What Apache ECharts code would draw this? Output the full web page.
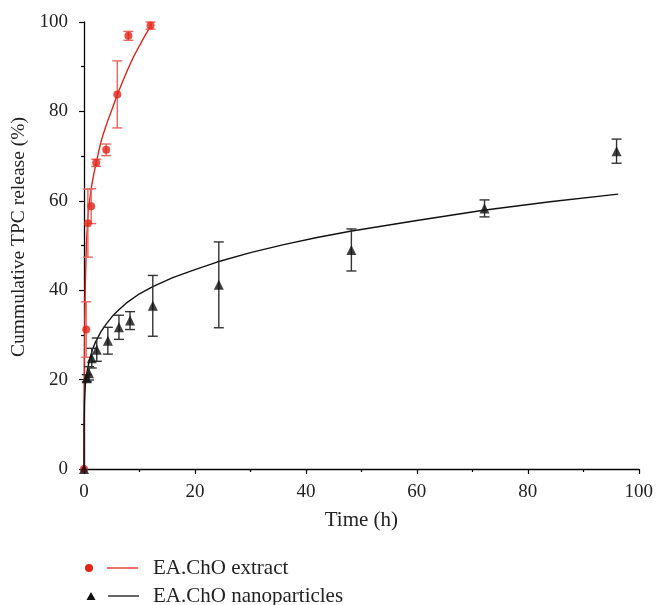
<!DOCTYPE html>
<html>
<head>
<meta charset="utf-8">
<script src="https://cdn.jsdelivr.net/npm/echarts@6/dist/echarts.min.js"></script>
<style>
html,body{margin:0;padding:0;background:#fff;}
#chart{width:656px;height:605px;}
</style>
</head>
<body>
<div id="chart"></div>
<script>
// ---- data ----
const xTicks = [0, 20, 40, 60, 80, 100];
const yTicks = [0, 20, 40, 60, 80, 100];

const extractTime  = [0, 0.4, 0.7, 1.3, 2.2, 4, 6, 8, 12];
const extractValue = [0, 31.2, 55, 58.8, 68.5, 71.4, 83.8, 96.9, 99.2];
const extractError = [0, 6.2, 7.6, 3.9, 0.8, 1.3, 7.5, 1.0, 0.8];

const nanoTime  = [0, 0.5, 0.9, 1.4, 2.3, 4.3, 6.3, 8.3, 12.4, 24.3, 48.2, 72.2, 96];
const nanoValue = [0, 20.3, 21.4, 24.8, 26.7, 28.7, 31.7, 33.2, 36.5, 41.2, 49.0, 58.3, 71.1];
const nanoError = [0, 0.8, 1.5, 2.2, 2.6, 3.0, 2.7, 2.0, 6.8, 9.6, 4.7, 1.9, 2.7];

// fitted curves
const extractFitTime  = [0, 0.03, 0.08, 0.15, 0.25, 0.45, 0.75, 1, 1.4, 1.8, 2.2, 2.7, 3.2, 3.7, 4.2, 5.2, 6, 7, 8, 9, 10.3, 11.2, 12.2];
const extractFitValue = [0, 15, 26, 34, 42, 51, 57, 60, 63.5, 66.2, 68.5, 71.3, 73.8, 75.8, 77.6, 81, 83.7, 86.8, 89.7, 92.4, 95.4, 97.4, 99.4];

const nanoFitTime  = [0, 0.02, 0.1, 0.25, 0.5, 1, 1.5, 2, 3, 4, 5.2, 6, 7.6, 10, 12.4, 16, 20, 24, 30, 36, 42, 48, 60, 72, 84, 96.3];
const nanoFitValue = [0, 10, 15.5, 19, 21.5, 24.5, 26.6, 28.2, 30.6, 32.4, 34.3, 35.3, 37.1, 39.2, 40.8, 42.8, 44.6, 46.3, 48.4, 50.2, 51.8, 53.2, 55.6, 57.9, 59.8, 61.5];

const legendNames = ['EA.ChO extract', 'EA.ChO nanoparticles'];
const xAxisName = 'Time (h)';
const yAxisName = 'Cummulative TPC release (%)';

// ---- styling ----
const RED = '#e2231a';
const RED_ERR = '#e8665f';
const BLACK = '#111111';
const BLACK_ERR = '#333333';
const FONT = '"Liberation Serif", "DejaVu Serif", serif';

function zip(a, b, c) { return a.map((v, i) => c ? [v, b[i], c[i]] : [v, b[i]]); }

function errRender(color) {
  return function (params, api) {
    const x = api.value(0), y = api.value(1), e = api.value(2);
    if (!e) return null;
    const hi = api.coord([x, y + e]);
    const lo = api.coord([x, y - e]);
    const w = 5;
    const st = { stroke: color, lineWidth: 1.4 };
    return {
      type: 'group',
      children: [
        { type: 'line', shape: { x1: hi[0], y1: hi[1], x2: lo[0], y2: lo[1] }, style: st },
        { type: 'line', shape: { x1: hi[0] - w, y1: hi[1], x2: hi[0] + w, y2: hi[1] }, style: st },
        { type: 'line', shape: { x1: lo[0] - w, y1: lo[1], x2: lo[0] + w, y2: lo[1] }, style: st }
      ]
    };
  };
}

const chart = echarts.init(document.getElementById('chart'), null, { renderer: 'canvas' });

const axisCommon = {
  type: 'value',
  min: 0,
  max: 100,
  interval: 20,
  axisLine: { show: true, onZero: false, lineStyle: { color: '#000', width: 1.3 } },
  axisTick: { show: true, inside: false, length: 5, lineStyle: { color: '#000', width: 1.2 } },
  minorTick: { show: true, splitNumber: 2, length: 3, lineStyle: { color: '#000', width: 1.2 } },
  splitLine: { show: false },
  axisLabel: { color: '#222', fontFamily: FONT, fontSize: 19 }
};

chart.setOption({
  animation: false,
  backgroundColor: '#fff',
  grid: { left: 84, right: 16, top: 22, bottom: 136 },
  xAxis: Object.assign({}, axisCommon, {
    name: xAxisName,
    nameLocation: 'middle',
    nameGap: 41,
    nameTextStyle: { color: '#222', fontFamily: FONT, fontSize: 21 },
    axisLabel: Object.assign({}, axisCommon.axisLabel, { margin: 14,
      formatter: v => xTicks.indexOf(v) >= 0 ? String(v) : '' })
  }),
  yAxis: Object.assign({}, axisCommon, {
    name: yAxisName,
    nameLocation: 'middle',
    nameGap: 49,
    nameTextStyle: { color: '#222', fontFamily: FONT, fontSize: 19.5, padding: [0, 0, 0, 17] },
    axisLabel: Object.assign({}, axisCommon.axisLabel, { margin: 16,
      formatter: v => yTicks.indexOf(v) >= 0 ? String(v) : '' })
  }),
  series: [
    {
      name: legendNames[0] + ' fit',
      type: 'line',
      data: zip(extractFitTime, extractFitValue),
      showSymbol: false,
      smooth: false,
      lineStyle: { color: RED, width: 1.4, join: 'round' },
      z: 2
    },
    {
      name: legendNames[0] + ' error',
      type: 'custom',
      renderItem: errRender(RED_ERR),
      data: zip(extractTime, extractValue, extractError),
      encode: { x: 0, y: 1 },
      z: 3
    },
    {
      name: legendNames[0],
      type: 'scatter',
      data: zip(extractTime, extractValue),
      symbol: 'circle',
      symbolSize: 8,
      itemStyle: { color: RED },
      clip: false,
      z: 4
    },
    {
      name: legendNames[1] + ' fit',
      type: 'line',
      data: zip(nanoFitTime, nanoFitValue),
      showSymbol: false,
      smooth: false,
      lineStyle: { color: BLACK, width: 1.4, join: 'round' },
      z: 5
    },
    {
      name: legendNames[1] + ' error',
      type: 'custom',
      renderItem: errRender(BLACK_ERR),
      data: zip(nanoTime, nanoValue, nanoError),
      encode: { x: 0, y: 1 },
      z: 6
    },
    {
      name: legendNames[1],
      type: 'scatter',
      data: zip(nanoTime, nanoValue),
      symbol: 'triangle',
      symbolSize: 10,
      itemStyle: { color: BLACK },
      clip: false,
      z: 7
    }
  ],
  graphic: [
    { type: 'circle', shape: { cx: 89, cy: 568, r: 4 }, style: { fill: RED } },
    { type: 'line', shape: { x1: 107, y1: 568, x2: 138, y2: 568 }, style: { stroke: RED, lineWidth: 1.3 } },
    { type: 'text', x: 153, y: 568, style: { text: legendNames[0], fill: '#222', font: '21px ' + FONT, verticalAlign: 'middle', textAlign: 'left' } },
    { type: 'polygon', shape: { points: [[91, 592], [95.5, 600], [86.5, 600]] }, style: { fill: BLACK } },
    { type: 'line', shape: { x1: 108, y1: 596, x2: 139, y2: 596 }, style: { stroke: BLACK, lineWidth: 1.3 } },
    { type: 'text', x: 153, y: 596, style: { text: legendNames[1], fill: '#222', font: '21px ' + FONT, verticalAlign: 'middle', textAlign: 'left' } }
  ]
});
</script>
</body>
</html>
